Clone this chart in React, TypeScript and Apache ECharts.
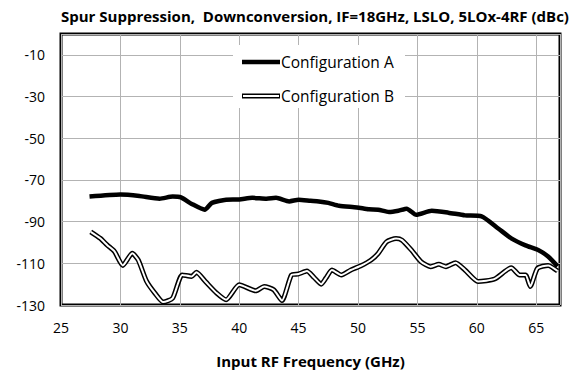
import React, { useEffect, useRef } from "react";
import * as echarts from "echarts";

const freqA = [27.4, 30.0, 31.6, 33.3, 34.4, 35.1, 36.0, 37.1, 37.7, 38.9, 40.0, 41.1, 42.3, 43.1, 44.2, 45.0, 46.0, 46.7, 47.5, 48.4, 49.9, 50.9, 51.7, 52.6, 53.4, 54.1, 54.9, 56.2, 57.6, 59.0, 60.4, 61.8, 62.9, 64.1, 65.2, 66.0, 66.8];
const valA = [-78, -77, -77.7, -79, -78, -78.4, -81.5, -84.3, -81, -79.5, -79.4, -78.6, -79, -78.6, -80.3, -79.5, -80, -80.3, -81, -82.4, -83.2, -84.1, -84.3, -85.4, -84.8, -83.8, -86.7, -84.8, -85.7, -87, -87.5, -93.3, -98, -101.4, -103.7, -106.7, -111.4];

const freqB = [27.5, 28.3, 28.9, 29.5, 30.2, 31.0, 31.5, 32.2, 32.9, 33.6, 34.4, 35.2, 36.0, 36.4, 37.2, 38.1, 38.9, 40.0, 41.4, 42.1, 42.9, 43.6, 44.4, 45.0, 45.7, 46.3, 46.9, 47.3, 47.8, 48.6, 49.4, 50.2, 51.1, 51.7, 52.4, 53.2, 53.7, 54.5, 55.3, 56.1, 56.8, 57.4, 58.2, 59.0, 60.1, 61.5, 62.9, 63.6, 64.1, 64.5, 65.1, 66.0, 66.8];
const valB = [-94.9, -98, -101.3, -104.3, -111, -105.2, -108.4, -118.6, -124.3, -128.6, -126.7, -115.6, -116.3, -114.3, -119, -124.3, -127.5, -120.3, -123.2, -121.1, -122.7, -127.9, -115.6, -115.1, -113.7, -116.8, -120, -117.1, -113.2, -115.6, -113.2, -111.3, -108.4, -105.2, -99.7, -98.1, -98.9, -103.7, -109.2, -111.6, -110.5, -111.6, -109.7, -113.2, -118.7, -117.5, -112.1, -115.6, -115.6, -121.1, -112.4, -111, -113.7];

const seriesNames = ["Configuration A", "Configuration B"];
const titleText = "Spur Suppression,  Downconversion, IF=18GHz, LSLO, 5LOx-4RF (dBc)";
const xName = "Input RF Frequency (GHz)";

const FONT = "'Open Sans', 'Noto Sans', sans-serif";

export default function App() {
  const ref = useRef<HTMLDivElement>(null);
  useEffect(() => {
    if (!ref.current) return;
    const chart = echarts.init(ref.current, undefined, { renderer: "svg" });
    const dataA = freqA.map((f, i) => [f, valA[i]]);
    const dataB = freqB.map((f, i) => [f, valB[i]]);
    chart.setOption({
      animation: false,
      backgroundColor: "#fff",
      title: {
        text: titleText,
        left: 56,
        top: 3,
        textStyle: { fontFamily: FONT, fontSize: 15, fontWeight: "bold", color: "#000" },
      },
      grid: {
        left: 61,
        top: 34,
        right: 17,
        bottom: 65,
        show: true,
        borderColor: "#000",
        borderWidth: 3,
        containLabel: false,
      },
      xAxis: {
        type: "value",
        min: 25,
        max: 67,
        interval: 5,
        name: xName,
        nameLocation: "middle",
        nameGap: 48,
        nameTextStyle: { fontFamily: FONT, fontSize: 15, fontWeight: "bold", color: "#000" },
        axisLine: { show: false },
        axisTick: { show: false },
        axisLabel: {
          margin: 15,
          fontFamily: FONT,
          fontSize: 14,
          color: "#000",
          formatter: (v: number) => (v === 67 ? "" : String(v)),
        },
        splitLine: { show: true, lineStyle: { color: "#b3b3b3", width: 1 } },
      },
      yAxis: {
        type: "value",
        min: -130,
        max: 0,
        interval: 20,
        axisLine: { show: false },
        axisTick: { show: false },
        axisLabel: {
          margin: 16,
          fontFamily: FONT,
          fontSize: 14,
          color: "#000",
          formatter: (v: number) => (v === 0 ? "" : String(v)),
        },
        splitLine: { show: true, lineStyle: { color: "#b3b3b3", width: 1 } },
      },
      series: [
        {
          name: seriesNames[0],
          type: "line",
          data: dataA,
          smooth: 0.2,
          symbol: "none",
          lineStyle: { color: "#000", width: 4.5 },
          z: 3,
        },
        {
          name: seriesNames[1],
          type: "line",
          data: dataB,
          smooth: 0.2,
          symbol: "none",
          lineStyle: { color: "#000", width: 5 },
          z: 3,
        },
        {
          name: seriesNames[1] + " inner",
          type: "line",
          data: dataB,
          smooth: 0.2,
          symbol: "none",
          lineStyle: { color: "#fff", width: 2 },
          z: 4,
        },
      ],
      graphic: [
        { type: "rect", shape: { x: 233, y: 45, width: 172, height: 63 }, style: { fill: "#fff" }, z: 10 },
        { type: "line", shape: { x1: 242, y1: 62, x2: 280, y2: 62 }, style: { stroke: "#000", lineWidth: 4.5 }, z: 11 },
        { type: "text", x: 281, y: 62, style: { text: seriesNames[0], fontFamily: FONT, fontSize: 15.5, fill: "#000", verticalAlign: "middle" }, z: 11 },
        { type: "line", shape: { x1: 242, y1: 96, x2: 280, y2: 96 }, style: { stroke: "#000", lineWidth: 5 }, z: 11 },
        { type: "line", shape: { x1: 243, y1: 96, x2: 279, y2: 96 }, style: { stroke: "#fff", lineWidth: 2 }, z: 12 },
        { type: "text", x: 281, y: 96, style: { text: seriesNames[1], fontFamily: FONT, fontSize: 15.5, fill: "#000", verticalAlign: "middle" }, z: 11 },
      ],
    });
    return () => chart.dispose();
  }, []);
  return <div ref={ref} style={{ width: 577, height: 373, position: "absolute", left: 0, top: 0 }} />;
}
